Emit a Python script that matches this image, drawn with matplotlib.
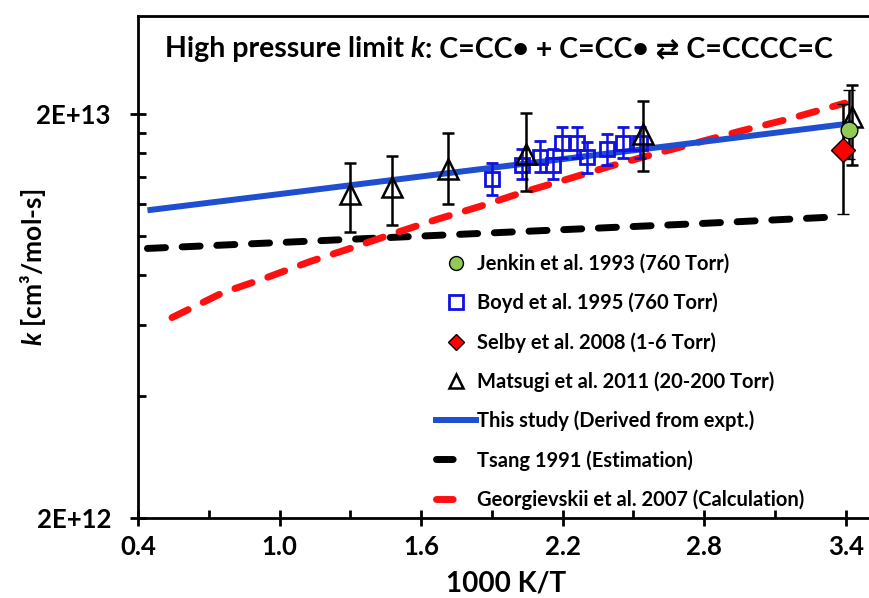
import matplotlib
matplotlib.use('Agg')
import matplotlib.pyplot as plt
from matplotlib.lines import Line2D
from matplotlib.ticker import FixedLocator, NullFormatter

plt.rcParams['font.family'] = ['Lato', 'DejaVu Sans']
plt.rcParams['font.weight'] = 'bold'
plt.rcParams['mathtext.fontset'] = 'custom'
plt.rcParams['mathtext.rm'] = 'Lato:bold'
plt.rcParams['mathtext.it'] = 'Lato:italic:bold'
plt.rcParams['mathtext.bf'] = 'Lato:bold'
plt.rcParams['lines.scale_dashes'] = False

# --- data (1000/T, k in cm3/mol-s) ---
jenkin_x = [3.414]
jenkin_k = [1.83e13]
jenkin_lo = [1.55e13]
jenkin_hi = [2.29e13]

boyd_x = [1.901, 2.028, 2.104, 2.159, 2.197, 2.261, 2.303, 2.388, 2.456, 2.528]
boyd_k = [1.38e13, 1.50e13, 1.57e13, 1.50e13, 1.70e13, 1.70e13, 1.565e13, 1.64e13, 1.70e13, 1.70e13]
boyd_lo = [1.26e13, 1.38e13, 1.44e13, 1.38e13, 1.56e13, 1.56e13, 1.43e13, 1.50e13, 1.56e13, 1.56e13]
boyd_hi = [1.51e13, 1.64e13, 1.72e13, 1.64e13, 1.86e13, 1.86e13, 1.71e13, 1.79e13, 1.86e13, 1.86e13]

selby_x = [3.389]
selby_k = [1.63e13]
selby_lo = [1.135e13]
selby_hi = [2.12e13]

matsugi_x = [1.30, 1.477, 1.714, 2.045, 2.541, 3.427]
matsugi_k = [1.266e13, 1.318e13, 1.46e13, 1.59e13, 1.783e13, 1.966e13]
matsugi_lo = [1.019e13, 1.061e13, 1.196e13, 1.288e13, 1.444e13, 1.50e13]
matsugi_hi = [1.51e13, 1.574e13, 1.795e13, 2.01e13, 2.15e13, 2.36e13]

study_x = [0.44, 1.0, 1.6, 2.2, 2.8, 3.43]
study_k = [1.156e13, 1.268e13, 1.402e13, 1.548e13, 1.71e13, 1.90e13]

tsang_x = [0.44, 1.0, 1.6, 2.2, 2.8, 3.38]
tsang_k = [9.30e12, 9.62e12, 9.98e12, 1.035e13, 1.073e13, 1.115e13]

georg_x = [0.544, 0.760, 0.947, 1.129, 1.311, 1.498, 1.668, 1.850, 2.032,
           2.219, 2.401, 2.583, 2.770, 2.952, 3.151, 3.397]
georg_k = [6.27e12, 7.23e12, 7.88e12, 8.63e12, 9.35e12, 1.019e13, 1.098e13, 1.182e13,
           1.281e13, 1.38e13, 1.486e13, 1.59e13, 1.70e13, 1.815e13, 1.94e13, 2.13e13]

x_ticks = [0.4, 1.0, 1.6, 2.2, 2.8, 3.4]
x_minor = [0.7, 1.3, 1.9, 2.5, 3.1]
y_ticks = [2e12, 2e13]
y_tick_labels = ['2E+12', '2E+13']
y_minor = [4e12, 6e12, 8e12, 1e13, 1.2e13, 1.4e13, 1.6e13, 1.8e13]

labels = ['Jenkin et al. 1993 (760 Torr)', 'Boyd et al. 1995 (760 Torr)',
          'Selby et al. 2008 (1-6 Torr)', 'Matsugi et al. 2011 (20-200 Torr)',
          'This study (Derived from expt.)', 'Tsang 1991 (Estimation)',
          'Georgievskii et al. 2007 (Calculation)']


def yerr(k, lo, hi):
    return [[a - b for a, b in zip(k, lo)], [c - a for a, c in zip(k, hi)]]


W, H = 870, 598
fig = plt.figure(figsize=(W / 100, H / 100), dpi=100)
ax = fig.add_axes([138 / W, 80 / H, 736 / W, 502 / H])
ax.set_yscale('log')
ax.set_xlim(0.4, 3.52)
ax.set_ylim(2e12, 3.5e13)

# model lines
ax.plot(tsang_x, tsang_k, color='black', lw=5, dashes=(13, 12),
        dash_capstyle='round', zorder=2)
ax.plot(georg_x, georg_k, color='#FF1010', lw=5, dashes=(13, 12),
        dash_capstyle='round', zorder=2)
ax.plot(study_x, study_k, color='#1F4FD0', lw=4.3, solid_capstyle='butt', zorder=3)

# experiments
ax.errorbar(boyd_x, boyd_k, yerr=yerr(boyd_k, boyd_lo, boyd_hi), fmt='s',
            ms=10, mfc='none', mec='#1010E0', mew=2, ecolor='#1010E0',
            elinewidth=1.8, capsize=4, capthick=1.8, zorder=4)
ax.errorbar(matsugi_x, matsugi_k, yerr=yerr(matsugi_k, matsugi_lo, matsugi_hi), fmt='^',
            ms=14, mfc='none', mec='black', mew=1.8, ecolor='black',
            elinewidth=1.8, capsize=4, capthick=1.8, zorder=5)
ax.errorbar(selby_x, selby_k, yerr=yerr(selby_k, selby_lo, selby_hi), fmt='D',
            ms=12, mfc='#FF0000', mec='black', mew=1, ecolor='black',
            elinewidth=1.8, capsize=4, capthick=1.8, zorder=6)
ax.errorbar(jenkin_x, jenkin_k, yerr=yerr(jenkin_k, jenkin_lo, jenkin_hi), fmt='o',
            ms=12, mfc='#8FCB55', mec='black', mew=1, ecolor='black',
            elinewidth=1.8, capsize=4, capthick=1.8, zorder=6)

# axes styling
for s in ['top', 'left', 'bottom', 'right']:
    ax.spines[s].set_linewidth(2)
ax.set_xticks(x_ticks)
ax.set_xticklabels([f'{v:.1f}' for v in x_ticks])
ax.xaxis.set_minor_locator(FixedLocator(x_minor))
ax.set_yticks(y_ticks)
ax.set_yticklabels(y_tick_labels)
ax.yaxis.set_minor_locator(FixedLocator(y_minor))
ax.yaxis.set_minor_formatter(NullFormatter())
ax.tick_params(which='major', direction='inout', length=11, width=2,
               labelsize=18.5, pad=7)
ax.tick_params(axis='y', which='major', pad=14)
ax.tick_params(which='minor', direction='in', length=6, width=2)

ax.set_xlabel('1000 K/T', fontsize=20, fontweight='bold')
ax.xaxis.set_label_coords(0.5, -0.105)
ax.set_ylabel('$k$ [cm³/mol-s]', fontsize=19, fontweight='bold')
ax.yaxis.set_label_coords(-0.122, 0.5)

# title inside the plot, built from pieces so that k is italic and the arrow has a glyph
renderer = fig.canvas.get_renderer()
title_parts = [('High pressure limit', 'normal'), ('k', 'italic'),
               (': C=CC• + C=CC• ⇄ C=CCCC=C', 'normal')]
tfs = 20.5
probe1 = fig.text(0, 0, 'H H', fontsize=tfs)
probe2 = fig.text(0, 0, 'HH', fontsize=tfs)
space_w = probe1.get_window_extent(renderer).width - probe2.get_window_extent(renderer).width
probe1.remove()
probe2.remove()
xpos = 165
for i, (txt, style) in enumerate(title_parts):
    t = fig.text(xpos / W, 1 - 57 / H, txt, fontsize=tfs, fontstyle=style,
                 ha='left', va='baseline')
    xpos += t.get_window_extent(renderer).width
    if i == 0:
        xpos += space_w

handles = [
    Line2D([], [], ls='none', marker='o', ms=10, mfc='#8FCB55', mec='black', mew=1),
    Line2D([], [], ls='none', marker='s', ms=9.5, mfc='none', mec='#1010E0', mew=2),
    Line2D([], [], ls='none', marker='D', ms=8, mfc='#FF0000', mec='black', mew=1),
    Line2D([], [], ls='none', marker='^', ms=10, mfc='none', mec='black', mew=1.8),
    Line2D([], [], color='#1F4FD0', lw=4.3),
    Line2D([], [], color='black', lw=5, dashes=(12, 40), dash_capstyle='round'),
    Line2D([], [], color='#FF1010', lw=5, dashes=(12, 40), dash_capstyle='round'),
]
ax.legend(handles, labels, loc='upper left', bbox_to_anchor=(436 / W, 1 - 254 / H),
          bbox_transform=fig.transFigure, frameon=False, fontsize=14.5,
          handlelength=2.0, handletextpad=0.05, labelspacing=0.93, borderpad=0,
          borderaxespad=0)

fig.savefig('out.png', dpi=100)
